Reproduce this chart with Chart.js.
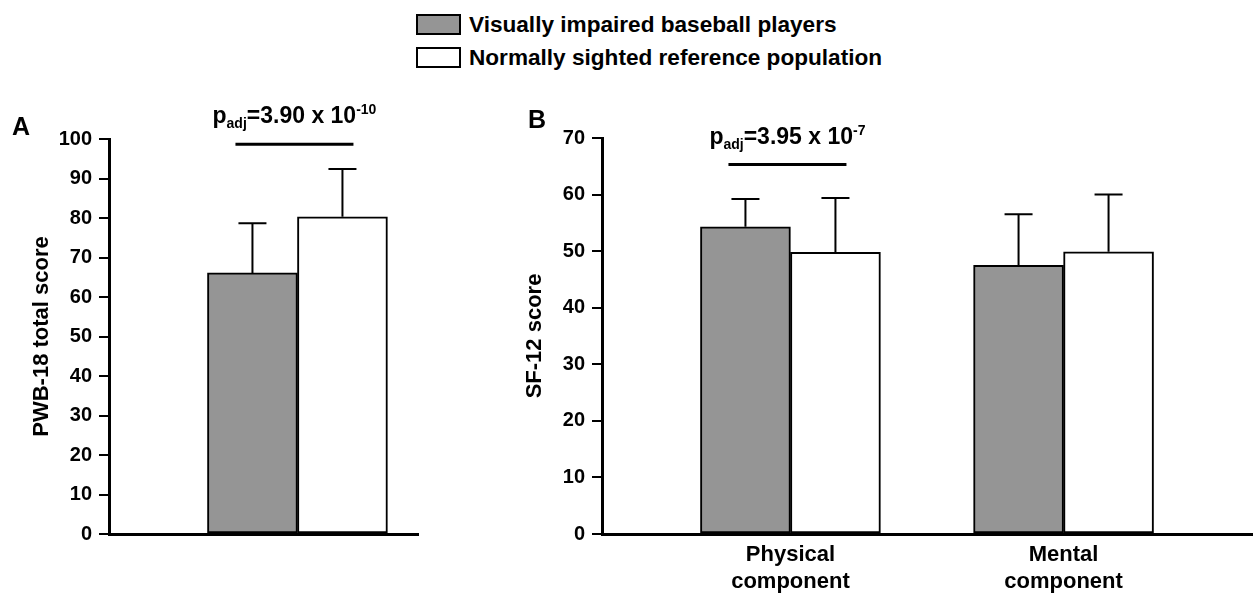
<!DOCTYPE html>
<html>
<head>
<meta charset="utf-8">
<script src="https://cdn.jsdelivr.net/npm/chart.js@4.4.1/dist/chart.umd.min.js"></script>
<style>
    body { margin: 0; background: #fff; width: 1259px; height: 593px; overflow: hidden; position: relative;
           font-family: "Liberation Sans", Arial, sans-serif; }
    #wrapA { position: absolute; left: 0; top: 0; width: 470px; height: 593px; }
    #wrapB { position: absolute; left: 470px; top: 0; width: 789px; height: 593px; }
    #legend { position: absolute; left: 416px; top: 8px; font-weight: bold; font-size: 22.6px; color: #000; }
    .item { display: flex; align-items: center; height: 33px; }
    .box { width: 41px; height: 17px; border: 2px solid #000; margin-right: 8px; }
</style>
</head>
<body>
<div id="legend"></div>
<div id="wrapA"><canvas id="chartA"></canvas></div>
<div id="wrapB"><canvas id="chartB"></canvas></div>
<script>
// series
const seriesNames = ['Visually impaired baseball players', 'Normally sighted reference population'];
const seriesColors = ['#959595', '#ffffff'];

// panel A: PWB-18 total score (single group)
const categoriesA = [''];
const impairedA = [66.1];
const impairedErrA = [12.6];
const referenceA = [80.3];
const referenceErrA = [12.1];

// panel B: SF-12 score
const categoriesB = [['Physical', 'component'], ['Mental', 'component']];
const impairedB = [54.3, 47.5];
const impairedErrB = [4.9, 9.0];
const referenceB = [49.8, 49.9];
const referenceErrB = [9.6, 10.1];

// significance labels
const pAdjA = { mantissa: '3.90', exponent: '-10' };
const pAdjB = { mantissa: '3.95', exponent: '-7' };

const FONT = '"Liberation Sans", Arial, sans-serif';

// html legend
const legend = document.getElementById('legend');
seriesNames.forEach((name, i) => {
    const row = document.createElement('div');
    row.className = 'item';
    row.innerHTML = '<span class="box" style="background:' + seriesColors[i] + '"></span>' + name;
    legend.appendChild(row);
});

// error bars, p-value bracket and panel letter
const extras = {
    id: 'extras',
    afterDatasetsDraw(chart, args, opts) {
        const ctx = chart.ctx;
        const y = chart.scales.y;
        const x = chart.scales.x;
        ctx.save();
        ctx.strokeStyle = '#000';
        ctx.lineWidth = 2;
        chart.data.datasets.forEach((ds, di) => {
            const meta = chart.getDatasetMeta(di);
            meta.data.forEach((bar, i) => {
                const top = y.getPixelForValue(ds.data[i].y + ds.errors[i]);
                ctx.beginPath();
                ctx.moveTo(bar.x, bar.y);
                ctx.lineTo(bar.x, top);
                ctx.moveTo(bar.x - 14, top);
                ctx.lineTo(bar.x + 14, top);
                ctx.stroke();
            });
        });

        // bracket line
        const sig = opts.sig;
        const cx = x.getPixelForValue(sig.group) - 3;
        const ly = y.getPixelForValue(sig.level);
        ctx.lineWidth = 3;
        ctx.beginPath();
        ctx.moveTo(cx - 59, ly);
        ctx.lineTo(cx + 59, ly);
        ctx.stroke();

        // p_adj=... x 10^exp
        const big = 'bold 23px ' + FONT;
        const small = 'bold 14px ' + FONT;
        const main = '=' + sig.p.mantissa + ' x 10';
        ctx.font = big;
        const wP = ctx.measureText('p').width;
        const wMain = ctx.measureText(main).width;
        ctx.font = small;
        const wSub = ctx.measureText('adj').width;
        const wSup = ctx.measureText(sig.p.exponent).width;
        let tx = cx - (wP + wSub + wMain + wSup) / 2;
        const base = ly - 21;
        ctx.fillStyle = '#000';
        ctx.textBaseline = 'alphabetic';
        ctx.textAlign = 'left';
        ctx.font = big;
        ctx.fillText('p', tx, base); tx += wP;
        ctx.font = small;
        ctx.fillText('adj', tx, base + 5); tx += wSub;
        ctx.font = big;
        ctx.fillText(main, tx, base); tx += wMain;
        ctx.font = small;
        ctx.fillText(sig.p.exponent, tx, base - 9);

        // panel letter
        ctx.font = 'bold 25px ' + FONT;
        ctx.fillText(opts.letter.text, opts.letter.x, opts.letter.y);
        ctx.restore();
    }
};

function makeDatasets(cats, vals0, errs0, vals1, errs1) {
    const toPts = vals => vals.map((v, i) => ({ x: i + 1, y: v }));
    return [
        { label: seriesNames[0], data: toPts(vals0), errors: errs0, backgroundColor: seriesColors[0] },
        { label: seriesNames[1], data: toPts(vals1), errors: errs1, backgroundColor: seriesColors[1] }
    ];
}

function makeOptions(cfg) {
    return {
        responsive: true,
        maintainAspectRatio: false,
        animation: false,
        layout: { padding: { left: 0, right: cfg.padRight, top: cfg.padTop, bottom: 0 } },
        datasets: {
            bar: { barThickness: 90, borderWidth: 2, borderColor: '#000', borderSkipped: false }
        },
        plugins: {
            legend: { display: false },
            tooltip: { enabled: false },
            extras: { sig: cfg.sig, letter: cfg.letter }
        },
        scales: {
            x: {
                type: 'linear',
                offset: false,
                min: cfg.xMin,
                max: cfg.xMax,
                grid: { display: false, offset: false },
                border: { display: true, color: '#000', width: 3 },
                afterBuildTicks: scale => { scale.ticks = cfg.cats.map((c, i) => ({ value: i + 1 })); },
                afterFit: scale => { scale.height = 59; },
                ticks: {
                    display: cfg.showX,
                    color: '#000',
                    padding: 0,
                    maxRotation: 0,
                    font: { family: FONT, size: 22, weight: 'bold', lineHeight: 1.2 },
                    callback: v => cfg.cats[v - 1]
                }
            },
            y: {
                min: 0,
                max: cfg.yMax,
                grid: { drawOnChartArea: false, drawTicks: true, tickLength: 10, color: '#000', lineWidth: 2 },
                border: { display: true, color: '#000', width: 3 },
                afterFit: scale => { scale.width = cfg.yWidth; },
                ticks: {
                    stepSize: 10,
                    color: '#000',
                    padding: 7,
                    font: { family: FONT, size: 20, weight: 'bold' }
                },
                title: {
                    display: true,
                    text: cfg.yTitle,
                    color: '#000',
                    padding: { top: cfg.titlePad, bottom: 0 },
                    font: { family: FONT, size: 22, weight: 'bold' }
                }
            }
        }
    };
}

new Chart(document.getElementById('chartA'), {
    type: 'bar',
    data: { datasets: makeDatasets(categoriesA, impairedA, impairedErrA, referenceA, referenceErrA) },
    options: makeOptions({
        cats: categoriesA, showX: false, xMin: 0.309, xMax: 1.442, yMax: 100,
        padRight: 52, padTop: 139, yWidth: 109, titlePad: 29, yTitle: 'PWB-18 total score',
        sig: { group: 1, level: 98.7, p: pAdjA },
        letter: { text: 'A', x: 12, y: 135 }
    }),
    plugins: [extras]
});

new Chart(document.getElementById('chartB'), {
    type: 'bar',
    data: { datasets: makeDatasets(categoriesB, impairedB, impairedErrB, referenceB, referenceErrB) },
    options: makeOptions({
        cats: categoriesB, showX: true, xMin: 0.31, xMax: 2.69, yMax: 70,
        padRight: 7, padTop: 138, yWidth: 132, titlePad: 52, yTitle: 'SF-12 score',
        sig: { group: 1, level: 65.3, p: pAdjB },
        letter: { text: 'B', x: 58, y: 128 }
    }),
    plugins: [extras]
});
</script>
</body>
</html>
